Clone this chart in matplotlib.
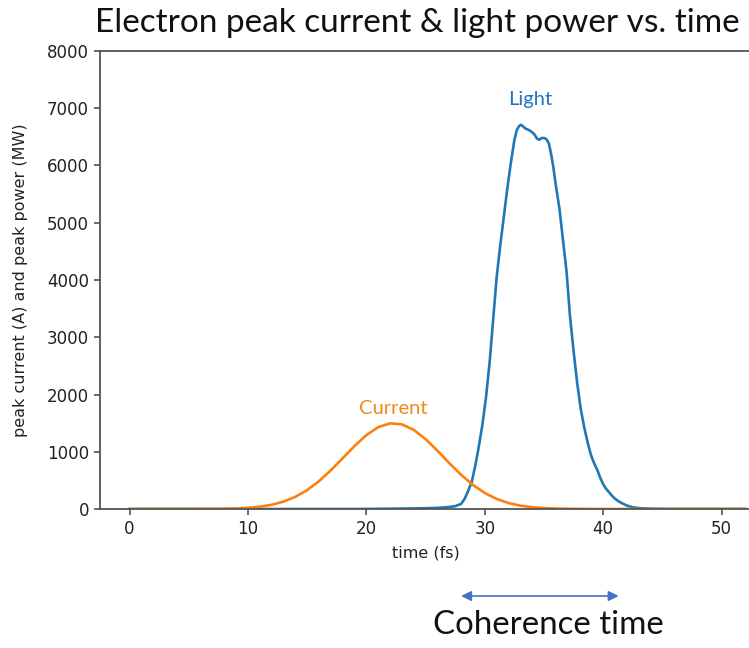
import matplotlib
matplotlib.use("Agg")
import matplotlib.pyplot as plt

# Electron bunch peak current (A) versus time (fs)
current_t = [0, 1, 2, 3, 4, 5, 6, 7, 8, 9, 10, 11, 12, 13, 14, 15, 16, 17, 18, 19,
             20, 21, 22, 23, 24, 25, 26, 27, 28, 29, 30, 31, 32, 33, 34, 35, 36,
             37, 38, 39, 40, 42, 44, 46, 48, 50, 52]
current_a = [0, 0, 0, 0, 0, 0, 1, 2, 4, 10, 21, 40, 74, 129, 213, 331, 487, 677,
             888, 1101, 1291, 1430, 1496, 1479, 1382, 1220, 1018, 802, 597, 420,
             279, 176, 104, 58, 31, 16, 8, 4, 2, 1, 0, 0, 0, 0, 0, 0, 0]

# Radiated light peak power (MW) versus time (fs)
light_t = [0, 5, 10, 15, 20, 21, 22, 23, 24, 25, 26, 27, 27.5, 28, 28.3, 28.6,
           28.9, 29.2, 29.5, 29.8, 30.1, 30.4, 30.7, 31.0, 31.3, 31.6, 31.9, 32.2,
           32.5, 32.7, 32.9, 33.05, 33.2, 33.4, 33.6, 33.8, 34.0, 34.2, 34.4, 34.6,
           34.8, 35.0, 35.2, 35.4, 35.6, 35.8, 36.0, 36.3, 36.6, 36.9, 37.2, 37.5,
           37.8, 38.1, 38.4, 38.7, 38.85, 39.0, 39.25, 39.5, 39.75, 40.0, 40.25,
           40.5, 40.75, 41.0, 41.25, 41.5, 42.0, 42.5, 43, 44, 45, 46, 48, 50, 52]
light_mw = [0, 0, 0, 0, 1, 3, 5, 8, 10, 14, 20, 35, 50, 90, 180, 320,
            480, 760, 1100, 1480, 1950, 2550, 3300, 4050, 4600, 5100, 5600, 6050,
            6450, 6620, 6690, 6710, 6690, 6650, 6630, 6610, 6580, 6540, 6470, 6450,
            6480, 6480, 6460, 6390, 6200, 5950, 5650, 5250, 4700, 4150, 3350, 2750,
            2200, 1750, 1420, 1150, 1030, 920, 790, 680, 545, 430, 350,
            290, 230, 180, 140, 110, 60, 30, 15, 6, 2, 0, 0, 0, 0]

x_ticks = [0, 10, 20, 30, 40, 50]
y_ticks = [0, 1000, 2000, 3000, 4000, 5000, 6000, 7000, 8000]

title_text = "Electron peak current & light power vs. time"
x_label = "time (fs)"
y_label = "peak current (A) and peak power (MW)"
coherence_text = "Coherence time"
coherence_span = [28.0, 41.3]   # arrow ends, in fs

fig = plt.figure(figsize=(7.49, 6.48), dpi=100)
ax = fig.add_axes([0.1335, 0.2145, 0.8695, 0.7068])

ax.plot(light_t, light_mw, color="#1f77b4", lw=1.9)
ax.plot(current_t, current_a, color="#ff7f0e", lw=1.9)

ax.set_xlim(-2.5, 52.5)
ax.set_ylim(0, 8000)
ax.set_xticks(x_ticks)
ax.set_yticks(y_ticks)
ax.tick_params(labelsize=12, length=4.5, width=1.1, color="#444444",
               labelcolor="#222222")
for s in ax.spines.values():
    s.set_color("#555555")
    s.set_linewidth(1.3)

ax.set_xlabel(x_label, fontsize=11.5, color="#222222", labelpad=5)
ax.set_ylabel(y_label, fontsize=11.5, color="#222222")
ax.yaxis.set_label_coords(-0.111, 0.5)

# Curve annotations
ax.text(33.8, 7150, "Light", color="#2274BE", fontsize=14.5, family="Lato",
        ha="center", va="center")
ax.text(22.3, 1750, "Current", color="#EE8A1A", fontsize=14.5, family="Lato",
        ha="center", va="center")

fig.text(0.557, 0.964, title_text, fontsize=24, family="Lato",
         ha="center", va="center", color="#111111")

# Coherence time arrow below the axis
ax.annotate("", xy=(coherence_span[1], -1520), xytext=(coherence_span[0], -1520),
            xycoords="data", textcoords="data", annotation_clip=False,
            arrowprops=dict(arrowstyle="<|-|>", color="#4472C4", lw=1.2,
                            mutation_scale=15, shrinkA=0, shrinkB=0))
fig.text(0.732, 0.021, coherence_text, fontsize=23.8, family="Lato",
         ha="center", va="baseline", color="#111111")

fig.savefig("out.png", dpi=100)
